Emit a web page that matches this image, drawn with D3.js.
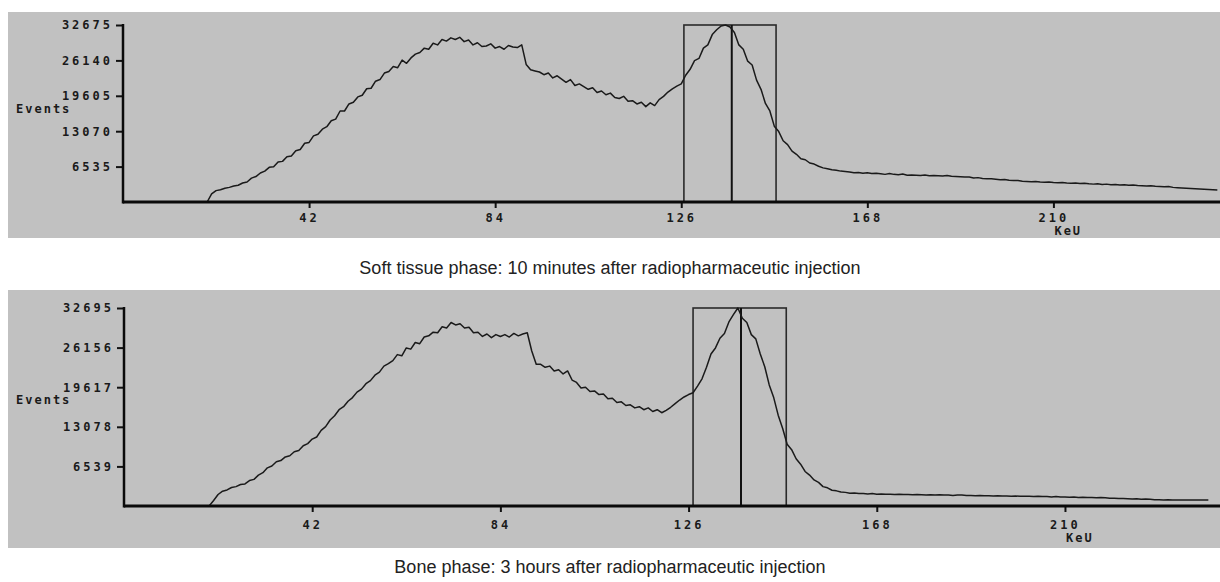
<!DOCTYPE html>
<html>
<head>
<meta charset="utf-8">
<script src="https://cdn.jsdelivr.net/npm/d3@7"></script>
<style>
  html, body { margin: 0; padding: 0; background: #ffffff; }
  svg { display: block; }
  .tick text { font-family: "DejaVu Sans Mono", monospace; font-weight: bold; }
</style>
</head>
<body>
<svg id="chart" width="1220" height="582"></svg>
<script>
// ---------- DATA (counts per 1 keV channel, starting at 0 keV) ----------
const softTissueCounts = [
  0,0,0,0,0,0,0,0,0,0, 0,0,0,0,0,0,0,0,0,0,                              // 0-19
  1500,2100,2250,2550,2700,2950,3100,3500,3700,4400,                    // 20-29
  4700,5350,5700,6400,6500,7400,7500,8350,8500,9450,                    // 30-39
  9700,10850,11000,12200,12500,13450,13900,15000,15300,16800,           // 40-49
  16800,18100,18400,19400,19700,20900,21000,22300,22600,23800,          // 50-59
  24100,25000,24800,26200,25600,26600,27300,27600,28400,28200,          // 60-69
  29300,29000,30000,29700,30300,30000,30400,29600,29900,29000,          // 70-79
  29400,28700,28800,29200,28400,28700,28200,28900,28600,28500,          // 80-89
  29000,25400,24400,24200,24000,23500,23800,22900,23300,22700,          // 90-99
  22100,22600,21500,21800,21300,20800,21100,20200,20500,19800,          // 100-109
  20100,19300,19100,19500,18600,18700,18100,18400,17600,18300,          // 110-119
  17800,18900,19500,20300,20900,21400,21800,23400,24500,26100,          // 120-129
  26500,28400,29000,30900,31800,32500,32675,32300,31300,29000,          // 130-139
  28200,26000,25300,22500,20800,18200,16800,14000,13000,11300,          // 140-149
  10600,9400,8800,8000,7800,7200,7000,6600,6300,6150,                   // 150-159
  5950,5850,5700,5650,5550,5400,5450,5300,5400,5250,                    // 160-169
  5300,5200,5100,5250,5100,5050,5150,4950,5000,4950,                    // 170-179
  4900,5000,4850,4900,4850,4800,4900,4750,4700,4650,                    // 180-189
  4600,4600,4450,4500,4350,4300,4300,4200,4100,4150,                    // 190-199
  4000,3950,3950,3850,3800,3750,3800,3700,3650,3700,                    // 200-209
  3600,3550,3600,3500,3450,3500,3400,3450,3350,3300,                    // 210-219
  3350,3250,3300,3200,3250,3150,3200,3100,3150,3050,                    // 220-229
  3000,2950,3000,2900,2850,2800,2850,2700,2650,2600,                    // 230-239
  2550,2500,2450,2400,2350,2300,2250,2200                               // 240-247
];
const boneCounts = [
  0,0,0,0,0,0,0,0,0,0, 0,0,0,0,0,0,0,0,0,0,                              // 0-19
  900,1900,2450,2650,3050,3200,3550,3650,4200,4400,                     // 20-29
  5100,5500,6300,6600,7300,7500,8100,8300,8950,9150,                    // 30-39
  9950,10300,11050,11400,12500,13100,14200,14900,15900,16400,           // 40-49
  17300,17900,18800,19300,20200,20700,21600,22100,23100,23500,          // 50-59
  24000,25000,24800,26100,25900,27000,26800,27900,28100,28700,          // 60-69
  28600,29600,29400,30300,29900,30100,29400,29500,28600,28700,          // 70-79
  28000,28400,27800,28300,28000,28300,27900,28500,28100,28400,          // 80-89
  28600,25600,23400,23400,22900,23100,22300,22500,21800,22300,          // 90-99
  20800,20400,19500,19600,18900,19000,18400,18500,17700,17800,          // 100-109
  17100,17200,16600,16700,16200,16400,15900,16200,15600,15900,          // 110-119
  15400,15800,16300,16900,17500,18000,18400,18700,19800,21000,          // 120-129
  22900,25100,26100,27700,28500,30400,31600,32695,31000,30300,          // 130-139
  28300,27600,25100,23000,20000,17900,15000,12800,10200,9300,           // 140-149
  7800,6900,5700,5100,4300,3900,3200,3000,2600,2500,                    // 150-159
  2300,2250,2100,2150,2050,2050,2000,2050,1950,2000,                    // 160-169
  1950,1950,1900,1950,1900,1900,1850,1900,1850,1800,                    // 170-179
  1850,1800,1850,1800,1800,1750,1800,1800,1750,1750,                    // 180-189
  1700,1750,1700,1700,1650,1700,1650,1650,1600,1650,                    // 190-199
  1600,1600,1600,1550,1600,1550,1550,1500,1550,1500,                    // 200-209
  1500,1450,1500,1400,1450,1400,1400,1350,1400,1350,                    // 210-219
  1300,1300,1250,1250,1200,1150,1200,1100,1150,1100,                    // 220-229
  1050,1050,1000,1050,1000,1000,1000,990,1000,990,                      // 230-239
  990,990,990                                                           // 240-242
];
const energyTicks = [42, 84, 126, 168, 210];
const energyUnit = "KeU";
const countLabel = "Events";
const softYTicks = [6535, 13070, 19605, 26140, 32675];
const boneYTicks = [6539, 13078, 19617, 26156, 32695];
const softWindow = [126.6, 137.4, 147.4];   // lower edge, centre, upper edge (keV)
const boneWindow = [127.0, 137.7, 147.8];
const softCaption = "Soft tissue phase: 10 minutes after radiopharmaceutic injection";
const boneCaption = "Bone phase: 3 hours after radiopharmaceutic injection";

// ---------- LAYOUT ----------
const panels = [
  { counts: softTissueCounts, yTicks: softYTicks, win: softWindow, caption: softCaption,
    bgTop: 12, bgBottom: 238, plotTop: 25, baseline: 202, x0: 123, xMaxKeV: 247.6,
    xLabelDy: 16, captionY: 268 },
  { counts: boneCounts, yTicks: boneYTicks, win: boneWindow, caption: boneCaption,
    bgTop: 290, bgBottom: 548, plotTop: 308, baseline: 506, x0: 124, xMaxKeV: 244.6,
    xLabelDy: 19, captionY: 567 }
];

const svg = d3.select("#chart");
const W = 1220;

panels.forEach(p => {
  const g = svg.append("g");
  const yMax = p.yTicks[p.yTicks.length - 1];
  const x = d3.scaleLinear().domain([0, p.xMaxKeV]).range([p.x0, W]);
  const y = d3.scaleLinear().domain([0, yMax]).range([p.baseline, p.plotTop]);

  // grey panel background
  g.append("rect").attr("x", 8).attr("y", p.bgTop)
    .attr("width", W - 8).attr("height", p.bgBottom - p.bgTop)
    .attr("fill", "#c1c1c1");

  // energy window box + centre line
  g.append("rect")
    .attr("x", x(p.win[0])).attr("y", y(yMax))
    .attr("width", x(p.win[2]) - x(p.win[0])).attr("height", y(0) - y(yMax))
    .attr("fill", "none").attr("stroke", "#2a2a2a").attr("stroke-width", 1.6);
  g.append("line")
    .attr("x1", x(p.win[1])).attr("x2", x(p.win[1]))
    .attr("y1", y(yMax)).attr("y2", y(0))
    .attr("stroke", "#111").attr("stroke-width", 2);

  // spectrum line
  const line = d3.line()
    .x((d, i) => x(i))
    .y(d => y(d));
  g.append("path").datum(p.counts)
    .attr("d", line)
    .attr("fill", "none")
    .attr("stroke", "#1a1a1a")
    .attr("stroke-width", 1.5)
    .attr("stroke-linejoin", "round");

  // Y axis
  const yAxis = d3.axisLeft(y).tickValues(p.yTicks).tickSize(7).tickPadding(3)
    .tickFormat(d3.format("d"));
  const ya = g.append("g").attr("transform", `translate(${p.x0},0)`).call(yAxis);
  ya.select(".domain").remove();
  ya.selectAll(".tick line").attr("stroke", "#111").attr("stroke-width", 2);
  ya.selectAll(".tick text").attr("fill", "#1a1a1a")
    .style("font-size", "12px").style("letter-spacing", "3px");

  // X axis
  const xAxis = d3.axisBottom(x).tickValues(energyTicks).tickSize(6).tickPadding(3)
    .tickFormat(d3.format("d"));
  const xa = g.append("g").attr("transform", `translate(0,${p.baseline})`).call(xAxis);
  xa.select(".domain").remove();
  xa.selectAll(".tick line").attr("stroke", "#111").attr("stroke-width", 2);
  xa.selectAll(".tick text").attr("fill", "#1a1a1a")
    .attr("y", p.xLabelDy).attr("dy", "0.35em")
    .style("font-size", "12px").style("letter-spacing", "3px");

  // axis lines
  g.append("line").attr("x1", p.x0).attr("x2", W)
    .attr("y1", y(0)).attr("y2", y(0))
    .attr("stroke", "#0a0a0a").attr("stroke-width", 3);
  g.append("line").attr("x1", p.x0).attr("x2", p.x0)
    .attr("y1", y(yMax) - 1).attr("y2", y(0) + 1.5)
    .attr("stroke", "#0a0a0a").attr("stroke-width", 2.5);

  // unit label under last tick
  g.append("text")
    .attr("x", x(energyTicks[energyTicks.length - 1]) + 1)
    .attr("y", p.baseline + p.xLabelDy + 13).attr("dy", "0.35em")
    .attr("font-family", "DejaVu Sans Mono, monospace").attr("font-weight", "bold")
    .attr("font-size", 12).attr("letter-spacing", "2px").attr("fill", "#1a1a1a")
    .text(energyUnit);

  // "Events" axis label
  g.append("text")
    .attr("x", 16).attr("y", y(p.yTicks[2]) + 13).attr("dy", "0.35em")
    .attr("font-family", "DejaVu Sans Mono, monospace").attr("font-weight", "bold")
    .attr("font-size", 12).attr("letter-spacing", "2px").attr("fill", "#1a1a1a")
    .text(countLabel);

  // caption
  svg.append("text")
    .attr("x", 610).attr("y", p.captionY).attr("dy", "0.35em")
    .attr("text-anchor", "middle")
    .attr("font-family", "'Liberation Sans', Arial, sans-serif")
    .attr("font-size", 18).attr("fill", "#222")
    .text(p.caption);
});
</script>
</body>
</html>
